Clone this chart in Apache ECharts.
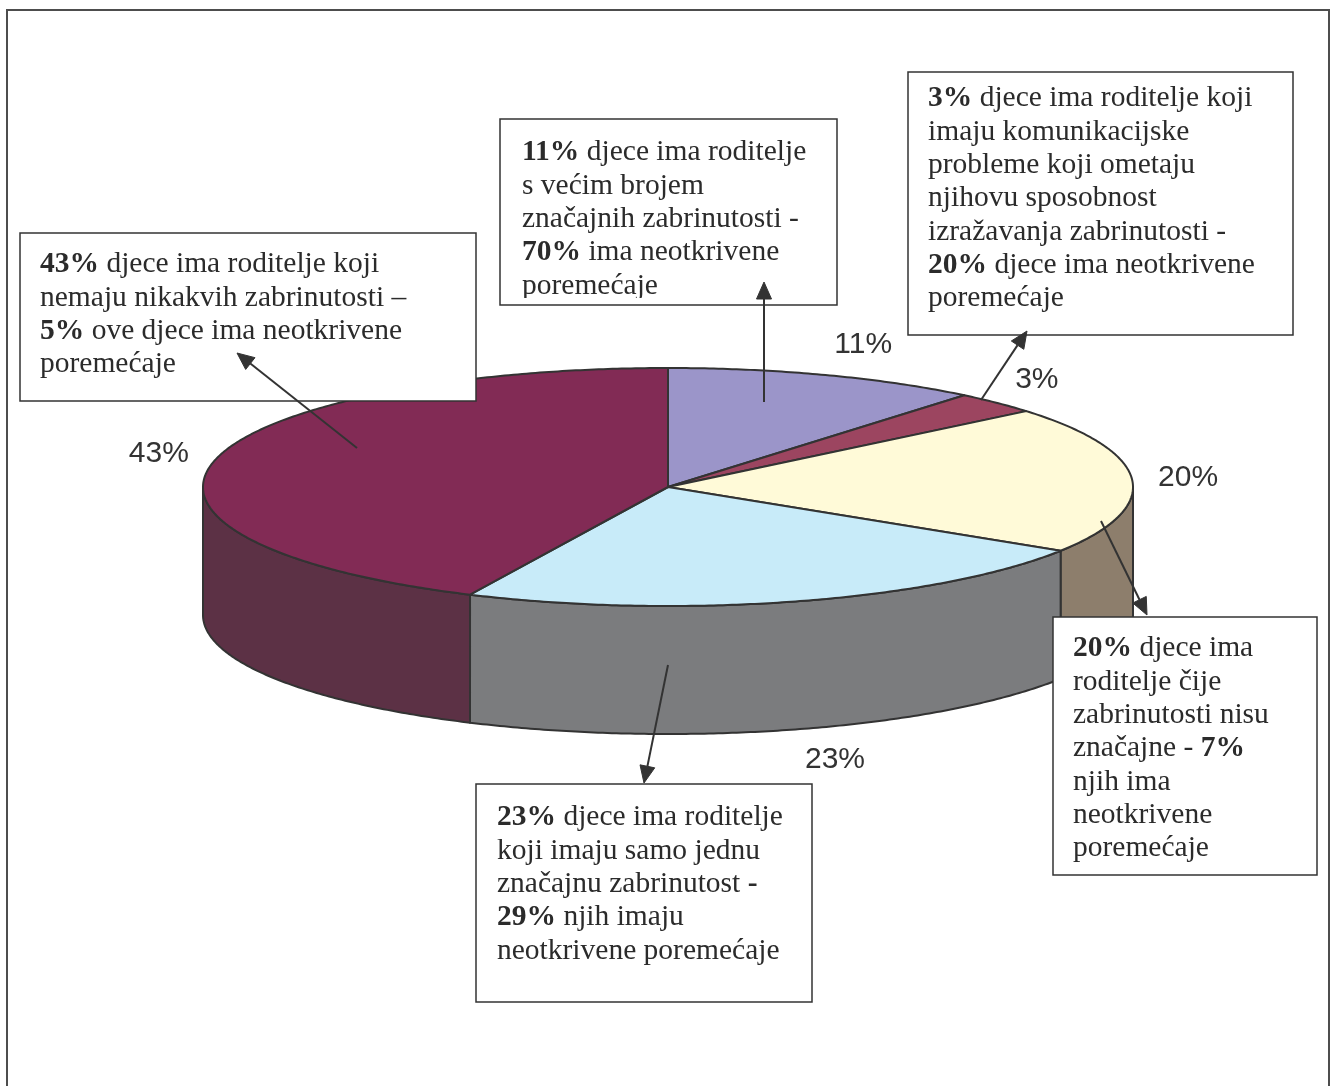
<!DOCTYPE html>
<html><head><meta charset="utf-8">
<script src="https://cdn.jsdelivr.net/npm/echarts@6/dist/echarts.min.js"></script>
<style>html,body{margin:0;padding:0;background:#fff}#c{width:1334px;height:1086px}</style>
</head><body><div id="c"></div>
<script>
// ---- data ----
const categories = [
  'Veći broj značajnih zabrinutosti',
  'Komunikacijski problemi',
  'Zabrinutosti nisu značajne',
  'Jedna značajna zabrinutost',
  'Bez zabrinutosti'
];
const shares = [11, 3, 20, 23, 43];
const shareLabels = ['11%', '3%', '20%', '23%', '43%'];
const calloutTexts = [
  '{b|11%} djece ima roditelje\ns većim brojem\nznačajnih zabrinutosti -\n{b|70%} ima neotkrivene\nporemećaje',
  '{b|3%} djece ima roditelje koji\nimaju komunikacijske\nprobleme koji ometaju\nnjihovu sposobnost\nizražavanja zabrinutosti -\n{b|20%} djece ima neotkrivene\nporemećaje',
  '{b|20%} djece ima\nroditelje čije\nzabrinutosti nisu\nznačajne - {b|7%}\nnjih ima\nneotkrivene\nporemećaje',
  '{b|23%} djece ima roditelje\nkoji imaju samo jednu\nznačajnu zabrinutost {b|-}\n{b|29%} njih imaju\nneotkrivene poremećaje',
  '{b|43%} djece ima roditelje koji\nnemaju nikakvih zabrinutosti –\n{b|5%} ove djece ima neotkrivene\nporemećaje'
];

// ---- styles / layout ----
const topColors  = ['#9b95c9', '#9c4560', '#fffad8', '#c8ebf9', '#822b55'];
const sideColors = ['#5d5a7a', '#5e2a3a', '#8d7e6c', '#7b7c7e', '#5c3145'];
const PIE = { cx: 668, cy: 487, rx: 465, ry: 119, depth: 128 };
const LABEL_GAP_X = 26, LABEL_GAP_Y = 32;
const boxes = [
  { x: 500, y: 119, w: 337, h: 186, tx: 522, ty: 136, clipY: 298 },
  { x: 908, y: 72,  w: 385, h: 263, tx: 928, ty: 82 },
  { x: 1053, y: 617, w: 264, h: 258, tx: 1073, ty: 632 },
  { x: 476, y: 784, w: 336, h: 218, tx: 497, ty: 801 },
  { x: 20,  y: 233, w: 456, h: 168, tx: 40,  ty: 248 }
];
const arrows = [
  [764, 402, 764, 282],
  [981, 400, 1027, 331],
  [1101, 521, 1147, 615],
  [668, 665, 644, 783],
  [357, 448, 237, 353]
];
const INK = '#333333';
const SERIF = '"Liberation Serif", "Times New Roman", serif';
const SANS = '"Liberation Sans", Arial, sans-serif';
const FS = 29.5, LH = 33.3;

const total = shares.reduce((a, b) => a + b, 0);
const starts = [];
shares.reduce((acc, v, i) => { starts[i] = acc; return acc + v; }, 0);

function ell(t, dy) {
  return [PIE.cx + PIE.rx * Math.sin(t), PIE.cy - PIE.ry * Math.cos(t) + (dy || 0)];
}
function arc(a, b, dy) {
  const pts = [];
  const n = Math.max(2, Math.ceil((b - a) / 0.01));
  for (let k = 0; k <= n; k++) pts.push(ell(a + (b - a) * k / n, dy));
  return pts;
}

function renderItem(params, api) {
  const i = params.dataIndex;
  const v = api.value(0);
  const a = starts[i] / total * Math.PI * 2;
  const b = a + v / total * Math.PI * 2;
  const children = [];
  // side wall (front half only)
  const sa = Math.max(a, Math.PI / 2), sb = Math.min(b, Math.PI * 1.5);
  if (sa < sb) {
    const pts = arc(sa, sb, 0).concat(arc(sa, sb, PIE.depth).reverse());
    children.push({
      type: 'polygon', z2: 1,
      shape: { points: pts },
      style: { fill: sideColors[i], stroke: INK, lineWidth: 2, lineJoin: 'round' }
    });
  }
  // top face
  const top = [[PIE.cx, PIE.cy]].concat(arc(a, b, 0));
  children.push({
    type: 'polygon', z2: 10,
    shape: { points: top },
    style: { fill: topColors[i], stroke: INK, lineWidth: 2, lineJoin: 'round' }
  });
  // percentage label
  const m = (a + b) / 2;
  const s = Math.sin(m), c = Math.cos(m);
  const lx = PIE.cx + (PIE.rx + LABEL_GAP_X) * s;
  const ly = PIE.cy - (PIE.ry + LABEL_GAP_Y) * c + (c < 0 ? PIE.depth : 0);
  children.push({
    type: 'text', z2: 20,
    style: {
      x: lx, y: ly, text: shareLabels[i], fill: '#333333',
      fontSize: 30, fontFamily: SANS,
      align: s >= 0 ? 'left' : 'right', verticalAlign: 'middle'
    }
  });
  return { type: 'group', children };
}

function arrowEls(x1, y1, x2, y2) {
  const dx = x2 - x1, dy = y2 - y1, L = Math.hypot(dx, dy);
  const ux = dx / L, uy = dy / L, hl = 17, hw = 7.5;
  const bx = x2 - ux * hl, by = y2 - uy * hl;
  return [
    { type: 'line', z: 30, shape: { x1, y1, x2: bx, y2: by }, style: { stroke: INK, lineWidth: 2 } },
    { type: 'polygon', z: 30, shape: { points: [[x2, y2], [bx - uy * hw, by + ux * hw], [bx + uy * hw, by - ux * hw]] },
      style: { fill: INK, stroke: INK, lineWidth: 1 } }
  ];
}

const graphics = [
  { type: 'rect', z: 5, shape: { x: 7, y: 10, width: 1322, height: 1100 },
    style: { fill: 'none', stroke: '#4d4d4d', lineWidth: 2 } }
];
boxes.forEach((bx, i) => {
  graphics.push({ type: 'rect', z: 20, shape: { x: bx.x, y: bx.y, width: bx.w, height: bx.h },
    style: { fill: '#ffffff', stroke: INK, lineWidth: 1.5 } });
  graphics.push({ type: 'text', z: 21, style: {
    x: bx.tx, y: bx.ty, text: calloutTexts[i], fill: '#2b2b2b',
    fontSize: FS, fontFamily: SERIF, lineHeight: LH, align: 'left', verticalAlign: 'top',
    rich: { b: { fontWeight: 'bold', fontSize: FS, fontFamily: SERIF, lineHeight: LH, fill: '#2b2b2b' } }
  } });
  if (bx.clipY) {
    graphics.push({ type: 'rect', z: 22, shape: { x: bx.x + 1, y: bx.clipY, width: bx.w - 2, height: bx.y + bx.h - bx.clipY - 1 },
      style: { fill: '#ffffff' } });
  }
});
arrows.forEach(a => graphics.push(...arrowEls(a[0], a[1], a[2], a[3])));

const chart = echarts.init(document.getElementById('c'), null, { renderer: 'canvas' });
chart.setOption({
  animation: false,
  backgroundColor: '#ffffff',
  series: [{
    type: 'custom',
    name: 'Zabrinutosti roditelja',
    coordinateSystem: 'none',
    silent: true,
    renderItem,
    data: shares.map((v, i) => ({ name: categories[i], value: [v] }))
  }],
  graphic: graphics
});
</script></body></html>
